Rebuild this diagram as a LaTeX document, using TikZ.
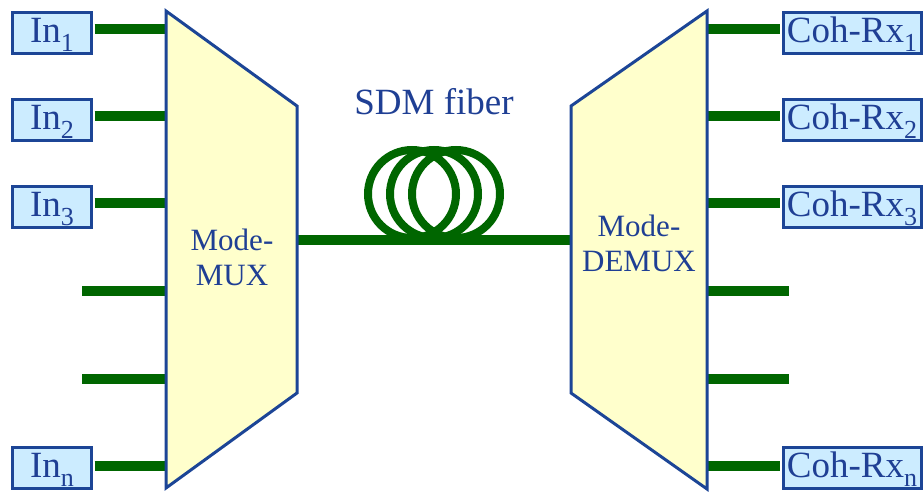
\documentclass[tikz,border=0pt]{standalone}
\usepackage{fontspec}
\setmainfont{Liberation Serif}
\definecolor{navy}{HTML}{1C4596}
\definecolor{txtblue}{HTML}{1F3F94}
\definecolor{boxfill}{HTML}{CCECFF}
\definecolor{muxfill}{HTML}{FFFFCC}
\definecolor{fibre}{HTML}{006600}
% lowered subscript used inside the port boxes
\newcommand\lowsub[1]{\raisebox{-0.25em}{\fontsize{26}{26}\selectfont #1}}
\begin{document}
\begin{tikzpicture}[x=1pt,y=-1pt,
  iobox/.style={draw=navy, line width=3pt, fill=boxfill, inner sep=0pt,
    text=txtblue, font=\fontsize{37}{40}\selectfont,
    text height=30pt, text depth=11pt, minimum height=41pt},
  inbox/.style={iobox, minimum width=79pt},
  rxbox/.style={iobox, minimum width=138pt},
  fib/.style={draw=fibre, line width=10pt},
  coil/.style={draw=fibre, line width=8pt},
  mux/.style={draw=navy, line width=3pt, fill=muxfill, line join=miter},
  lbl/.style={text=txtblue, align=center, font=\fontsize{31}{35}\selectfont}]
\useasboundingbox (0,0) rectangle (924,495);

% input ports
\node[inbox] (in1) at (52,33)  {In\lowsub{1}};
\node[inbox] (in2) at (52,120) {In\lowsub{2}};
\node[inbox] (in3) at (52,207) {In\lowsub{3}};
\node[inbox] (inn) at (52,468) {In\lowsub{n}};

% coherent receivers
\node[rxbox] (rx1) at (852,33)  {Coh-Rx\lowsub{1}};
\node[rxbox] (rx2) at (852,120) {Coh-Rx\lowsub{2}};
\node[rxbox] (rx3) at (852,207) {Coh-Rx\lowsub{3}};
\node[rxbox] (rxn) at (852,468) {Coh-Rx\lowsub{n}};

% points on the multiplexer edges
\coordinate (mi1) at (166,29);
\coordinate (mi2) at (166,116);
\coordinate (mi3) at (166,203);
\coordinate (mi4) at (166,291);
\coordinate (mi5) at (166,379);
\coordinate (min) at (166,466);
\coordinate (fa) at (82,291);
\coordinate (fb) at (82,379);
\coordinate (mo)  at (297,240);
\coordinate (di)  at (571,240);
\coordinate (do1) at (707,29);
\coordinate (do2) at (707,116);
\coordinate (do3) at (707,203);
\coordinate (do4) at (707,291);
\coordinate (do5) at (707,379);
\coordinate (don) at (707,466);
\coordinate (fc) at (789,291);
\coordinate (fd) at (789,379);

% fibres on the input side
\draw[fib, shorten <=1.5pt] (in1.east |- mi1) -- (mi1);
\draw[fib, shorten <=1.5pt] (in2.east |- mi2) -- (mi2);
\draw[fib, shorten <=1.5pt] (in3.east |- mi3) -- (mi3);
\draw[fib] (fa) -- (mi4);
\draw[fib] (fb) -- (mi5);
\draw[fib, shorten <=1.5pt] (inn.east |- min) -- (min);

% fibres on the output side
\draw[fib, shorten >=1.5pt] (do1) -- (rx1.west |- do1);
\draw[fib, shorten >=1.5pt] (do2) -- (rx2.west |- do2);
\draw[fib, shorten >=1.5pt] (do3) -- (rx3.west |- do3);
\draw[fib] (do4) -- (fc);
\draw[fib] (do5) -- (fd);
\draw[fib, shorten >=1.5pt] (don) -- (rxn.west |- don);

% coiled SDM fibre span
\draw[coil] (412,194) circle (44);
\draw[coil] (434,194) circle (44);
\draw[coil] (456,194) circle (44);
\draw[fib] (mo) -- (di);
\node[lbl, font=\fontsize{37}{40}\selectfont, anchor=base] (sdm) at (434,114) {SDM fiber};

% mode multiplexer and demultiplexer
\draw[mux] (166,11) -- (297,106) -- (297,393) -- (166,488) -- cycle;
\draw[mux] (571,106) -- (707,11) -- (707,489) -- (571,393) -- cycle;
\node[lbl] (muxl) at (232,257) {Mode-\\MUX};
\node[lbl] (demuxl) at (639,243) {Mode-\\DEMUX};
\end{tikzpicture}
\end{document}
